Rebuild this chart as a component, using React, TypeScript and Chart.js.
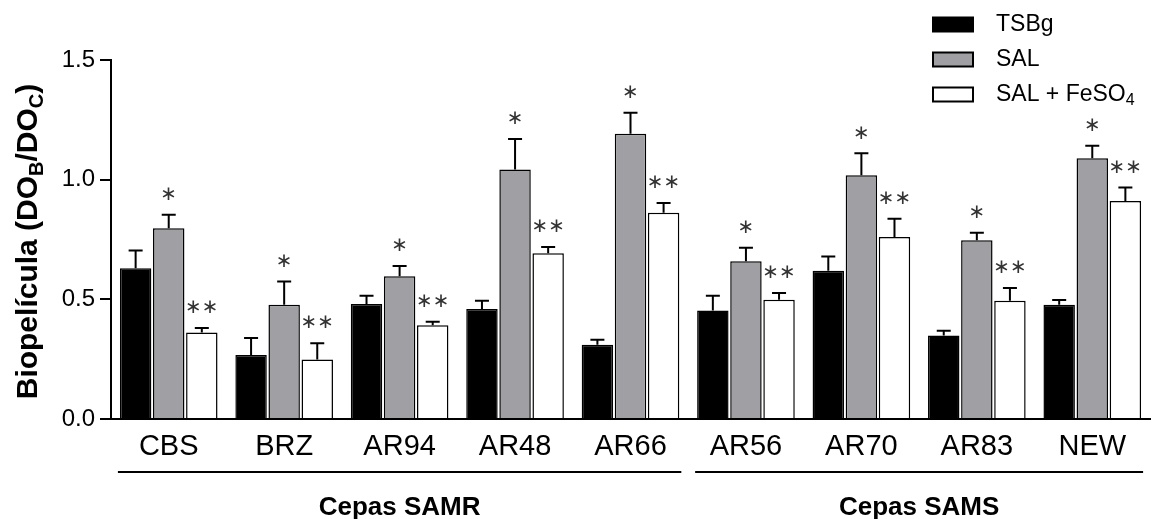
import React, { useEffect, useRef } from "react";
import { Chart, registerables } from "chart.js";

Chart.register(...registerables);

const FONT = "'Liberation Sans', Arial, Helvetica, sans-serif";

const categories = ["CBS", "BRZ", "AR94", "AR48", "AR66", "AR56", "AR70", "AR83", "NEW"];
const groupNames = ["Cepas SAMR", "Cepas SAMS"];
const groupSizes = [5, 4];
const seriesLabels = ["TSBg", "SAL", "SAL + FeSO_4"];
const yTitle = "Biopelícula (DO_B/DO_C)";
const yTicks = [0, 0.5, 1.0, 1.5];

const tsbg = [0.63, 0.267, 0.481, 0.46, 0.31, 0.453, 0.619, 0.349, 0.477];
const tsbgErr = [0.074, 0.071, 0.034, 0.034, 0.021, 0.062, 0.06, 0.02, 0.02];
const sal = [0.797, 0.477, 0.596, 1.043, 1.192, 0.659, 1.018, 0.747, 1.089];
const salErr = [0.056, 0.097, 0.043, 0.127, 0.088, 0.057, 0.092, 0.031, 0.053];
const salFe = [0.361, 0.249, 0.392, 0.693, 0.862, 0.498, 0.76, 0.494, 0.911];
const salFeErr = [0.019, 0.068, 0.014, 0.026, 0.041, 0.028, 0.077, 0.053, 0.056];
const tsbgMarks = ["", "", "", "", "", "", "", "", ""];
const salMarks = ["*", "*", "*", "*", "*", "*", "*", "*", "*"];
const salFeMarks = ["**", "**", "**", "**", "**", "**", "**", "**", "**"];

const errors = [tsbgErr, salErr, salFeErr];
const marks = [tsbgMarks, salMarks, salFeMarks];
const fills = ["#000000", "#a0a0a4", "#ffffff"];

type Part = { t: string; sub: boolean };
function parseRich(s: string): Part[] {
  const parts: Part[] = [];
  let buf = "";
  for (let i = 0; i < s.length; i++) {
    if (s[i] === "_" && i + 1 < s.length) {
      if (buf) parts.push({ t: buf, sub: false });
      buf = "";
      parts.push({ t: s[i + 1], sub: true });
      i++;
    } else buf += s[i];
  }
  if (buf) parts.push({ t: buf, sub: false });
  return parts;
}

function richWidth(ctx: CanvasRenderingContext2D, parts: Part[], size: number, weight: string) {
  let w = 0;
  for (const p of parts) {
    ctx.font = `${weight} ${p.sub ? Math.round(size * 0.68) : size}px ${FONT}`;
    w += ctx.measureText(p.t).width;
  }
  return w;
}

function drawRich(
  ctx: CanvasRenderingContext2D,
  parts: Part[],
  x: number,
  y: number,
  size: number,
  weight: string,
  align: "left" | "center"
) {
  const total = richWidth(ctx, parts, size, weight);
  let cx = align === "center" ? x - total / 2 : x;
  ctx.textAlign = "left";
  ctx.textBaseline = "middle";
  for (const p of parts) {
    const s = p.sub ? Math.round(size * 0.68) : size;
    ctx.font = `${weight} ${s}px ${FONT}`;
    ctx.fillText(p.t, cx, p.sub ? y + size * 0.28 : y);
    cx += ctx.measureText(p.t).width;
  }
}

const decor = {
  id: "decor",
  afterDatasetsDraw(chart: any) {
    const ctx: CanvasRenderingContext2D = chart.ctx;
    const y = chart.scales.y;
    ctx.save();
    chart.data.datasets.forEach((ds: any, di: number) => {
      const meta = chart.getDatasetMeta(di);
      meta.data.forEach((el: any, i: number) => {
        const v = ds.data[i];
        const top = y.getPixelForValue(v + errors[di][i]);
        ctx.strokeStyle = "#000";
        ctx.lineWidth = 2;
        ctx.beginPath();
        ctx.moveTo(el.x, el.y);
        ctx.lineTo(el.x, top);
        ctx.moveTo(el.x - 7, top);
        ctx.lineTo(el.x + 7, top);
        ctx.stroke();
        const m = marks[di][i];
        if (m) {
          ctx.fillStyle = "#333";
          ctx.font = `20px 'DejaVu Sans', sans-serif`;
          ctx.textAlign = "center";
          ctx.textBaseline = "middle";
          const txt = m.replace(/\*/g, "\u2217");
          ctx.fillText(txt, el.x, top - 20);
        }
      });
    });
    ctx.restore();
  },
  afterDraw(chart: any) {
    const ctx: CanvasRenderingContext2D = chart.ctx;
    const area = chart.chartArea;
    ctx.save();
    ctx.fillStyle = "#000";
    // y title
    ctx.save();
    ctx.translate(29, (area.top + area.bottom) / 2 + 2);
    ctx.rotate(-Math.PI / 2);
    drawRich(ctx, parseRich(yTitle), 0, 0, 30, "bold", "center");
    ctx.restore();

    // group brackets
    let start = 0;
    const m0 = chart.getDatasetMeta(0);
    const mL = chart.getDatasetMeta(chart.data.datasets.length - 1);
    groupSizes.forEach((n, g) => {
      const a = m0.data[start];
      const b = mL.data[start + n - 1];
      const x1 = a.x - a.width / 2 - 2;
      const x2 = b.x + b.width / 2 + 2;
      ctx.strokeStyle = "#000";
      ctx.lineWidth = 2;
      ctx.beginPath();
      ctx.moveTo(x1, area.bottom + 53);
      ctx.lineTo(x2, area.bottom + 53);
      ctx.stroke();
      ctx.font = `bold 26px ${FONT}`;
      ctx.textAlign = "center";
      ctx.textBaseline = "alphabetic";
      ctx.fillStyle = "#000";
      ctx.fillText(groupNames[g], (x1 + x2) / 2, area.bottom + 96);
      start += n;
    });

    // legend
    const lx = chart.width - 221;
    seriesLabels.forEach((lab, i) => {
      const cy = 24.5 + i * 35;
      ctx.fillStyle = fills[i];
      ctx.fillRect(lx, cy - 7, 40, 14);
      ctx.strokeStyle = "#000";
      ctx.lineWidth = 2;
      ctx.strokeRect(lx, cy - 7, 40, 14);
      ctx.fillStyle = "#000";
      drawRich(ctx, parseRich(lab), lx + 63, cy, 23, "normal", "left");
    });
    ctx.restore();
  },
};

export default function App() {
  const ref = useRef<HTMLCanvasElement>(null);
  useEffect(() => {
    document.body.style.margin = "0";
    const canvas = ref.current;
    if (!canvas) return;
    const chart = new Chart(canvas, {
      type: "bar",
      data: {
        labels: categories,
        datasets: [
          { label: seriesLabels[0], data: tsbg, backgroundColor: fills[0], borderColor: "#000", borderWidth: 1.5 },
          { label: seriesLabels[1], data: sal, backgroundColor: fills[1], borderColor: "#000", borderWidth: 1.5 },
          { label: seriesLabels[2], data: salFe, backgroundColor: fills[2], borderColor: "#000", borderWidth: 1.5 },
        ],
      },
      options: {
        responsive: false,
        animation: false,
        layout: { padding: { top: 60, right: 4, left: 0, bottom: 0 } },
        datasets: { bar: { categoryPercentage: 0.86, barPercentage: 0.95 } } as any,
        plugins: { legend: { display: false }, tooltip: { enabled: false } },
        scales: {
          x: {
            grid: { display: false, drawTicks: false },
            border: { display: true, color: "#000", width: 2 },
            ticks: { color: "#000", font: { family: FONT, size: 29 }, padding: 11, maxRotation: 0, autoSkip: false },
            afterFit: (s: any) => {
              s.height = 100;
            },
          },
          y: {
            min: 0,
            max: 1.5,
            afterBuildTicks: (s: any) => {
              s.ticks = yTicks.map((v) => ({ value: v }));
            },
            grid: { drawOnChartArea: false, drawTicks: true, tickLength: 11, color: "#000", lineWidth: 2 },
            border: { display: true, color: "#000", width: 2 },
            ticks: {
              color: "#000",
              font: { family: FONT, size: 24 },
              padding: 5,
              callback: (v: any) => Number(v).toFixed(1),
            },
            afterFit: (s: any) => {
              s.width = 111;
            },
          },
        },
      } as any,
      plugins: [decor],
    });
    return () => chart.destroy();
  }, []);
  return <canvas ref={ref} width={1154} height={519} style={{ display: "block" }} />;
}
